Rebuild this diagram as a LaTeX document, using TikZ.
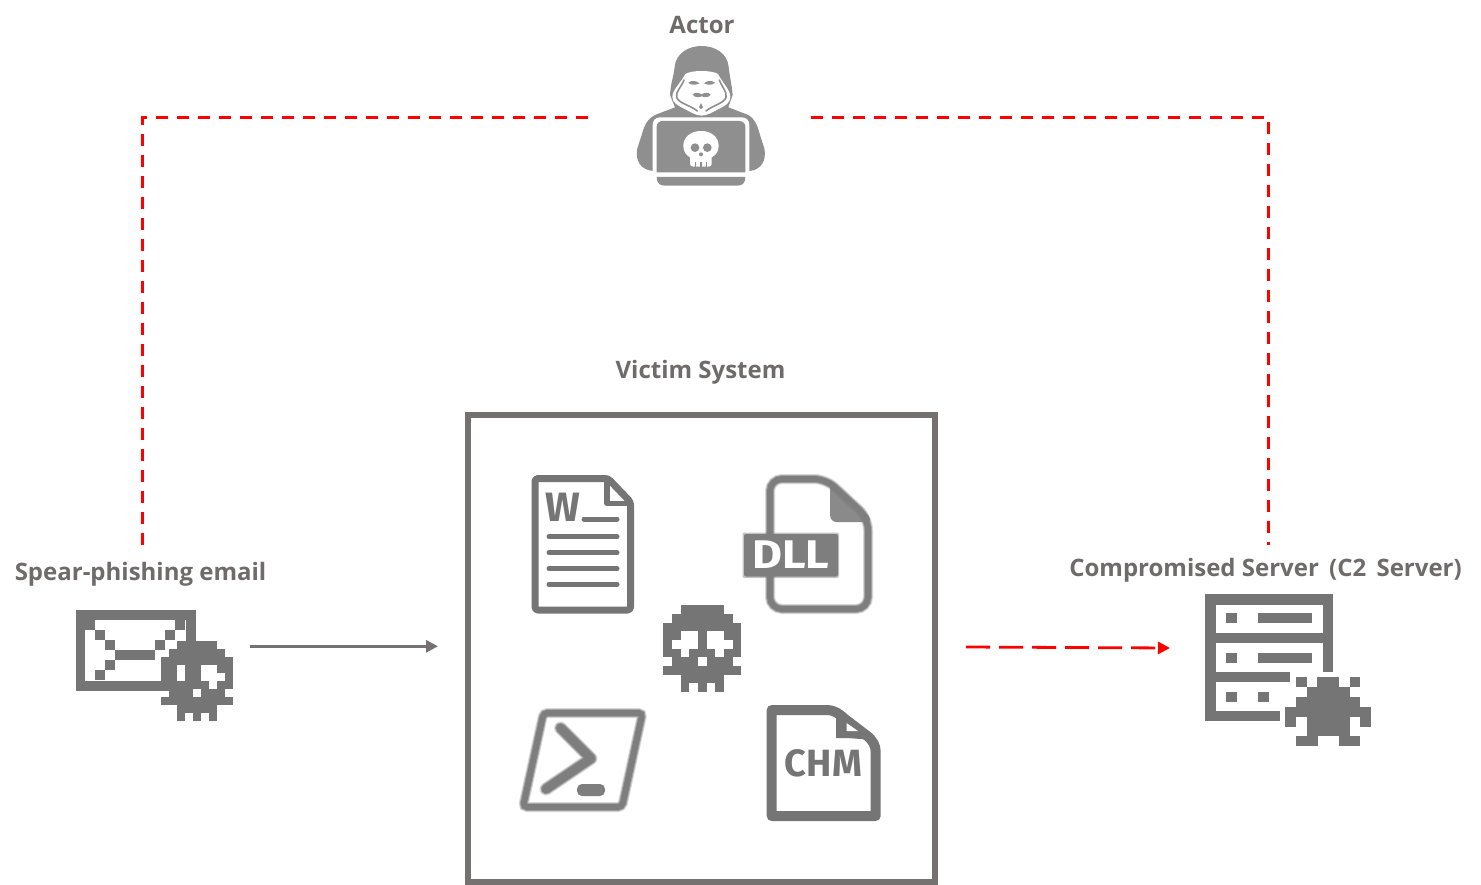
\documentclass[tikz,border=0pt]{standalone}
\usepackage{fontspec}
\usetikzlibrary{arrows.meta}
\setmainfont{Open Sans}
\newfontfamily\iconfont{Fira Sans}
\definecolor{lblgray}{HTML}{6F6B6B}
\definecolor{boxgray}{HTML}{767171}
\definecolor{icongray}{HTML}{757575}
\definecolor{hackgray}{HTML}{8F8F8F}
\definecolor{blurgray}{HTML}{7E7E7E}
\definecolor{attackred}{HTML}{FF0000}
\tikzset{
  lbl/.style={text=lblgray,font=\bfseries\fontsize{24}{28}\selectfont,inner sep=0pt,anchor=base},
  reddash/.style={draw=attackred,line width=3pt,dash pattern=on 12pt off 9pt},
  redarrow/.style={draw=attackred,line width=2.8pt,dash pattern=on 24pt off 9pt,-{Triangle[length=12pt,width=12pt]}},
  grayarrow/.style={draw=boxgray,line width=2.8pt,-{Triangle[length=12pt,width=12pt]}},
  vbox/.style={draw=boxgray,line width=6pt,fill=white,minimum width=467pt,minimum height=467pt,inner sep=0pt},
  icon/.style={fill=icongray},
  hack/.style={fill=hackgray},
  wline/.style={draw=icongray,line width=5pt,line cap=round},
}
\newcommand{\pixrows}[5]{\foreach \c/\r/\n in {#5} {\fill[icon] ({#1+\c*#3},{#2+\r*#4}) rectangle ({#1+(\c+\n)*#3+0.1},{#2+(\r+1)*#4+0.1});}}
\begin{document}
\begin{tikzpicture}[x=1pt,y=-1pt]
\useasboundingbox (0,0) rectangle (1481,885);
\fill[white] (0,0) rectangle (1481,885);

% labels
\node[lbl] (lActor) at (702,33.5) {Actor};
\node[lbl] (lVictim) at (700.5,378) {Victim System};
\node[lbl] (lMail) at (140.5,580) {Spear-phishing email};
\node[lbl] (lServer) at (1265.5,576) {Compromised Server\, (C2\, Server)};

% victim box
\node[vbox] (victim) at (701.5,648.5) {};

% anchors of connectors
\coordinate (actorL) at (588,117.5);
\coordinate (actorR) at (811,117.5);
\coordinate (cornerL) at (142.5,117.5);
\coordinate (cornerR) at (1268.5,117.5);
\coordinate (mailTop) at (142.5,547);
\coordinate (srvTop) at (1268.5,545);
\coordinate (mailR) at (250,646.3);
\coordinate (boxIn) at (438,646.3);
\coordinate (boxOut) at (966,647);
\coordinate (srvIn) at (1170,648);

\draw[reddash] (actorL) -- (cornerL) -- (mailTop);
\draw[reddash] (actorR) -- (cornerR) -- (srvTop);
\draw[grayarrow] (mailR) -- (boxIn);
\draw[redarrow] (boxOut) -- (srvIn);

% hacker
\begin{scope}[shift={(620,0)},x=0.3333pt,y=-0.3333pt]
  \fill[hack] (165,322) -- (105,345) .. controls (80,358) and (72,380) .. (65,405)
     -- (52,445) .. controls (45,480) and (60,510) .. (100,513)
     -- (388,513) .. controls (425,510) and (440,480) .. (433,445)
     -- (420,405) .. controls (412,375) and (405,358) .. (385,345) -- (325,322)
     -- (338,285) .. controls (335,250) and (328,225) .. (326,200)
     .. controls (322,160) and (285,138) .. (245,138)
     .. controls (205,138) and (168,160) .. (164,200)
     .. controls (162,225) and (152,250) .. (150,285) -- cycle;
  % hood opening
  \fill[white] (196,222) .. controls (215,210) and (275,210) .. (294,222)
     .. controls (305,245) and (331,270) .. (331,290)
     .. controls (331,308) and (318,316) .. (298,326)
     .. controls (275,338) and (260,347) .. (245,347)
     .. controls (230,347) and (215,338) .. (192,326)
     .. controls (172,316) and (157,308) .. (157,290)
     .. controls (157,270) and (185,245) .. (196,222) -- cycle;
  \draw[hackgray,line width=1.6pt,line cap=round] (192,240) .. controls (184,262) and (166,275) .. (170,292)
     .. controls (175,310) and (212,316) .. (232,333);
  \draw[hackgray,line width=1.6pt,line cap=round] (298,240) .. controls (306,262) and (322,275) .. (318,292)
     .. controls (313,310) and (278,316) .. (258,333);
  % face
  \fill[hack] (205,248) .. controls (215,240) and (230,242) .. (238,250) .. controls (228,256) and (212,256) .. (205,248) -- cycle;
  \fill[hack] (285,248) .. controls (275,240) and (260,242) .. (252,250) .. controls (262,256) and (278,256) .. (285,248) -- cycle;
  \fill[hack] (218,284) .. controls (224,276) and (238,278) .. (245,283) .. controls (252,278) and (266,276) .. (272,284)
     .. controls (266,294) and (252,292) .. (245,289) .. controls (238,292) and (224,294) .. (218,284) -- cycle;
  \fill[hack] (243,309) -- (249,322) -- (243,327) -- (237,322) -- cycle;
  % laptop
  \fill[white] (98,515) -- (98,375) .. controls (98,362) and (106,352) .. (120,352) -- (365,352) .. controls (380,352) and (388,362) .. (388,375) -- (388,515) -- cycle;
  \fill[hack] (110,517) -- (110,380) .. controls (110,370) and (118,363) .. (128,363) -- (357,363) .. controls (368,363) and (376,370) .. (376,380) -- (376,517) -- cycle;
  \fill[hack] (110,531) -- (376,531) .. controls (376,548) and (368,557) .. (352,557) -- (134,557) .. controls (118,557) and (110,548) .. (110,531) -- cycle;
  % skull
  \fill[white] (243,393) .. controls (275,393) and (296,412) .. (296,437) .. controls (296,455) and (288,465) .. (275,472) -- (275,492)
     .. controls (275,498) and (270,500) .. (265,500) -- (221,500) .. controls (215,500) and (210,498) .. (210,492) -- (210,472)
     .. controls (198,465) and (190,455) .. (190,437) .. controls (190,412) and (212,393) .. (243,393) -- cycle;
  \fill[hack] (225,443) circle[radius=13];
  \fill[hack] (262,443) circle[radius=13];
  \fill[hack] (243,463) circle[radius=6];
  \fill[hack] (224,486) rectangle (228,500);
  \fill[hack] (241,486) rectangle (245,500);
  \fill[hack] (258,486) rectangle (262,500);
\end{scope}

% envelope
\fill[icon] (75.7,610) rectangle (196,690.7);
\fill[white] (85.3,620) rectangle (186,681);
\pixrows{85.3}{620}{10}{10}{0/0/1,9/0/1,1/1/1,8/1/1,2/2/1,7/2/1,3/3/4,2/4/1,1/5/1}
\pixrows{161}{641}{8}{8}{2/0/5,1/1/7,0/2/9,0/3/2,3/3/2,7/3/2,0/4/2,3/4/2,8/4/1,0/5/6,7/5/2,1/6/3,5/6/3,0/7/9,2/8/5,2/9/1,4/9/1,6/9/1}
\fill[white] (193,689) rectangle (201,697);

% Word document
\fill[white] (535,478.5) rectangle (630,610);
\draw[icongray,line width=7pt,line join=round,rounded corners=3pt] (535,478.5) -- (608,478.5) -- (630.5,502) -- (630.5,610) -- (535,610) -- cycle;
\draw[icongray,line width=5.5pt,line join=round] (607,478.5) -- (607,503.5) -- (630,503.5);
\node[text=icongray,inner sep=0pt,font=\iconfont\bfseries\fontsize{41}{41}\selectfont] (wordW) at (562.5,507.5) {W};
\draw[wline] (584,519) -- (617,519);
\foreach \y in {536.7,552.7,568.7,584.3} \draw[wline] (549,\y) -- (617,\y);

% DLL document
\foreach \w/\o in {10/0.3,8/0.55,6/1} {
  \draw[draw=blurgray,line width=\w pt,opacity=\o,rounded corners=12pt] (770,479) -- (826,479) -- (868,518) -- (868,609) -- (770,609) -- cycle;
}
\fill[blurgray,opacity=0.9,rounded corners=2pt] (830,480) -- (870,517) -- (870,522) -- (838,522) .. controls (832,522) and (830,518) .. (830,512) -- cycle;
\fill[blurgray,opacity=0.45,rounded corners=2pt] (742.5,532.5) rectangle (839,578);
\fill[blurgray,rounded corners=2pt] (744,534) rectangle (838,576.5);
\node[text=white,inner sep=0pt,font=\iconfont\bfseries\fontsize{40}{40}\selectfont] (dllT) at (791,555) {\scalebox{1.15}[1]{DLL}};

% skull
\pixrows{663.3}{605.3}{8.67}{8.67}{2/0/5,1/1/7,0/2/9,0/3/2,4/3/1,7/3/2,0/4/1,4/4/1,8/4/1,0/5/2,3/5/3,7/5/2,1/6/3,5/6/3,0/7/9,2/8/5,2/9/1,4/9/1,6/9/1}

% PowerShell
\foreach \w/\o in {10/0.3,8/0.55,6/1} {
  \draw[draw=blurgray,line width=\w pt,opacity=\o,rounded corners=4pt] (543.5,713) -- (642.5,713) -- (622,807) -- (523,807) -- cycle;
  \draw[draw=blurgray,line width={\w pt+3pt},opacity=\o,line cap=round,line join=round] (560.5,728) -- (591,758.5) -- (546,789);
}
\fill[blurgray,rounded corners=5pt] (577,784) rectangle (605,796);

% CHM document
\fill[white] (772,710) rectangle (875,816);
\draw[icongray,line width=10pt,line join=round] (771.7,710) -- (825,710) .. controls (835,710) and (838,713) .. (845,719)
   -- (866,735) .. controls (873,740) and (875.7,746) .. (875.7,752) -- (875.7,816) -- (771.7,816) -- cycle;
\draw[icongray,line width=4pt,line join=round,rounded corners=2pt] (838,713) -- (838,735) -- (872,738);
\fill[icongray] (836,712) -- (872,738) -- (836,738) -- cycle;
\fill[white] (846.5,723) -- (858,731) -- (846.5,731) -- cycle;
\node[text=icongray,inner sep=0pt,font=\iconfont\bfseries\fontsize{38}{38}\selectfont] (chmT) at (823.5,763.5) {CHM};

% server
\fill[icon] (1205,594) rectangle (1333,604.7);
\fill[icon] (1205,594) rectangle (1215.6,721);
\fill[icon] (1322.7,594) rectangle (1333,672);
\fill[icon] (1205,632.7) rectangle (1333,642.7);
\fill[icon] (1205,672) rectangle (1290,682);
\fill[icon] (1205,711) rectangle (1279.5,721);
\fill[icon] (1226,613.3) rectangle (1237,623.3);
\fill[icon] (1258.3,613.3) rectangle (1311.7,623.3);
\fill[icon] (1226,652.7) rectangle (1237,662.7);
\fill[icon] (1258.3,652.7) rectangle (1311.7,662.7);
\fill[icon] (1226,691.7) rectangle (1237,701.7);
\fill[icon] (1258.3,691.7) rectangle (1269,701.7);
\pixrows{1285.3}{677.3}{10.7}{9.83}{1/0/1,3/0/2,6/0/1,2/1/4,1/2/6,0/3/8,0/4/1,2/4/4,7/4/1,2/5/4,1/6/2,5/6/2}
\end{tikzpicture}
\end{document}
